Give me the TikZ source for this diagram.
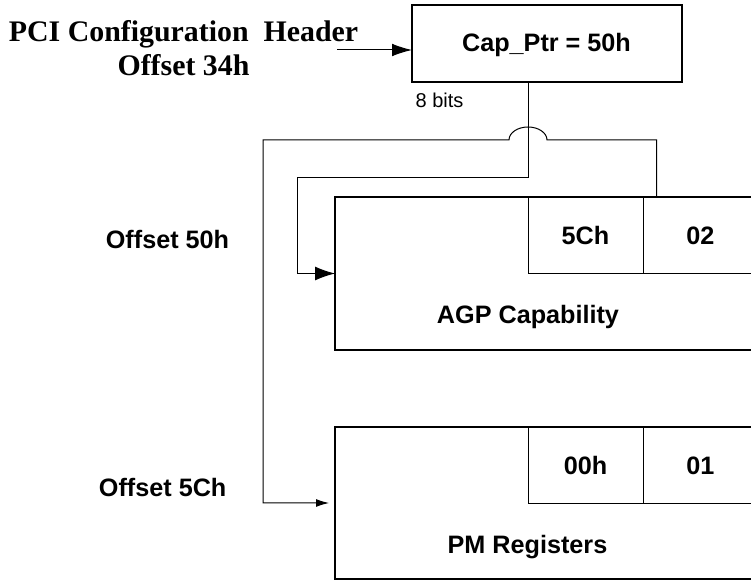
\documentclass[tikz,border=0pt]{standalone}
\usepackage{fontspec}
\setmainfont{Liberation Serif}
\setsansfont{Liberation Sans}
\usetikzlibrary{arrows.meta,calc}

\begin{document}
\begin{tikzpicture}[%
    x=0.75pt, y=-0.75pt,
    font=\sffamily\bfseries\fontsize{18.9}{22}\selectfont,
    >={Latex[length=15pt,width=10.5pt]}, % default arrow tip
    box/.style={draw, line width=1.5pt, inner sep=0pt, outer sep=0pt, anchor=north west},
    cell/.style={draw, line width=0.75pt, inner sep=0pt, outer sep=0pt, anchor=north west,
        minimum width=86.25pt, minimum height=57.75pt},
    link/.style={line width=0.75pt},
    hdr/.style={font=\rmfamily\bfseries\fontsize{22.4}{25.7}\selectfont, align=center}
    ]
        \useasboundingbox (0,0) rectangle (751,581);
        \clip (0,0) rectangle (751,581);

        % boxes
        \node[box, minimum width=202.5pt, minimum height=57.75pt] (cap) at (412,5) {};
        \node[box, minimum width=337.5pt, minimum height=114.75pt] (agp) at (335,197) {};
        \node[box, minimum width=337.5pt, minimum height=114pt] (pm) at (335,427) {};

        % fields
        \node[cell] (nxtA) at (528,197) {5Ch};
        \node[cell] (idA)  at (643,197) {02};
        \node[cell] (nxtB) at (528,427) {00h};
        \node[cell] (idB)  at (643,427) {01};

        % texts
        \node[anchor=base] (capval) at (546.5,51.5) {Cap\_Ptr = 50h};
        \node[anchor=base] (agpname) at (528,324) {AGP Capability};
        \node[anchor=base] (pmname) at (527.5,553) {PM Registers};
        \node[anchor=base west, font=\sffamily\fontsize{15}{18}\selectfont] (bits) at (411,107.5) {8 bits};
        \node[anchor=base] (offA) at (167.5,249) {Offset 50h};
        \node[anchor=base] (offB) at (162.7,497) {Offset 5Ch};
        \node[hdr, anchor=base] (pcihdr) at (183.5,76) {PCI Configuration\ \ Header\\Offset 34h};

        % pointers
        \coordinate (pciin) at (337,50);
        \draw[link, -{Latex[length=15pt,width=9.5pt]}] (pciin) -- (pciin -| cap.west);
        \draw[link, ->] (cap.south -| nxtA.west) -- ++(0,96)
            -| ($(agp.west)+(-38,0)$) -- (agp.west);
        \draw[link, -{Latex[length=9.75pt,width=6pt]}, shorten >=4.5pt]
            ($(nxtA.north)+(71,0)$) |- ($(cap.south -| nxtA.west)+(19,58)$)
            arc[start angle=0, end angle=-180, x radius=19, y radius=13]
            -| ($(pm.west)+(-72,0)$) -- (pm.west);
    \end{tikzpicture}
\end{document}
